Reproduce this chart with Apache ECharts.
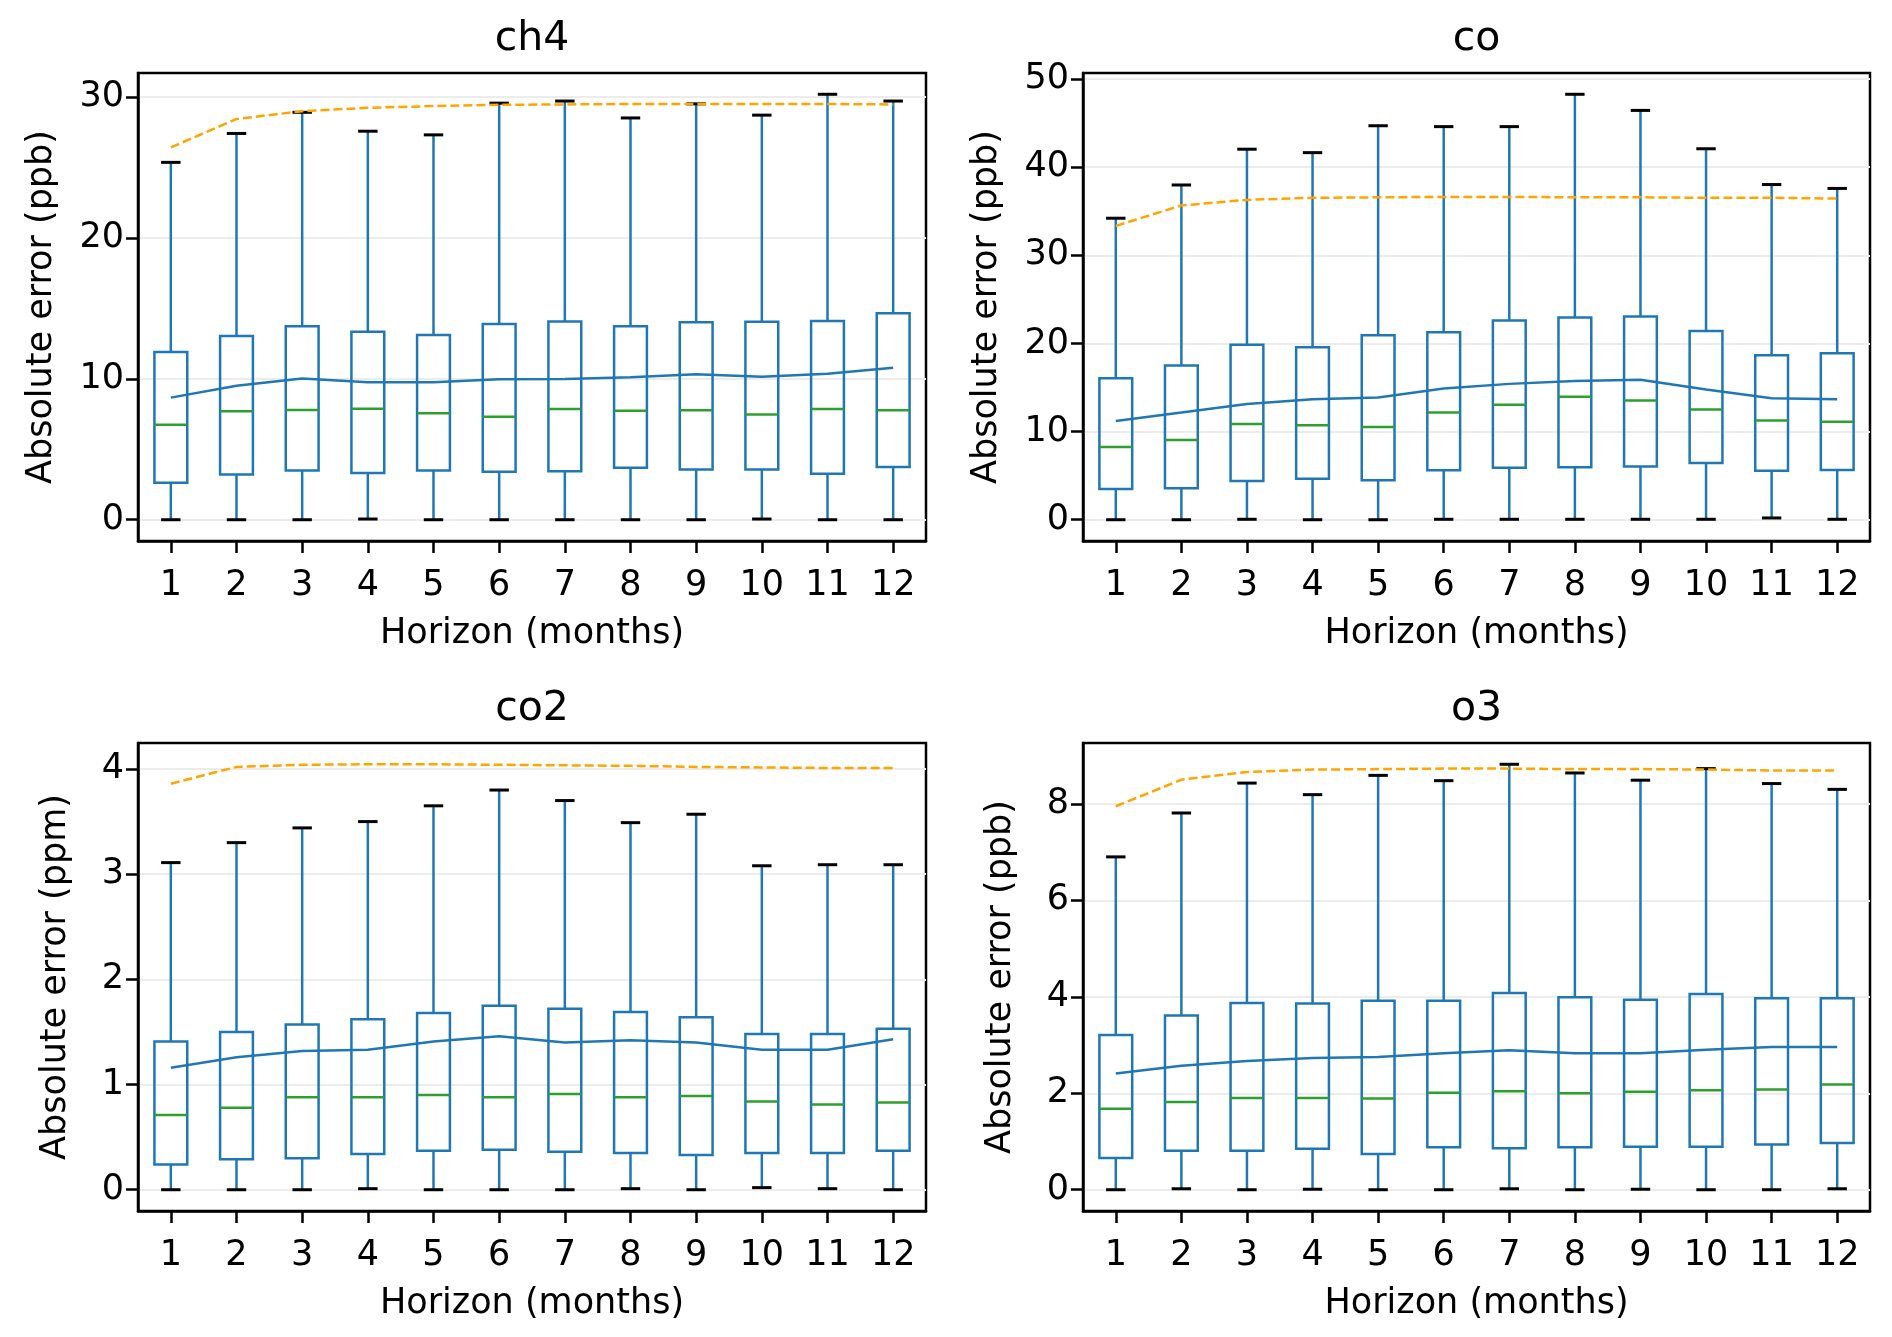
<!DOCTYPE html>
<html>
<head>
<meta charset="utf-8">
<script src="https://cdn.jsdelivr.net/npm/echarts@6/dist/echarts.min.js"></script>
<style>
  html, body { margin: 0; padding: 0; background: #ffffff; }
  #chart { width: 1892px; height: 1337px; }
</style>
</head>
<body>
<div id="chart"></div>
<script>
// ---------------- data ----------------
const horizons = ['1','2','3','4','5','6','7','8','9','10','11','12'];

// ch4 (ppb)
const ch4Low    = [0.0, 0.0, 0.0, 0.05, 0.0, 0.0, 0.0, 0.0, 0.0, 0.05, 0.0, 0.0];
const ch4Q1     = [2.63, 3.2, 3.5, 3.32, 3.5, 3.41, 3.44, 3.68, 3.56, 3.56, 3.26, 3.74];
const ch4Median = [6.73, 7.7, 7.79, 7.88, 7.55, 7.3, 7.85, 7.73, 7.76, 7.46, 7.85, 7.76];
const ch4Q3     = [11.9, 13.04, 13.73, 13.34, 13.1, 13.88, 14.07, 13.73, 14.0, 14.04, 14.1, 14.64];
const ch4High   = [25.35, 27.4, 28.9, 27.56, 27.3, 29.55, 29.7, 28.5, 29.5, 28.7, 30.18, 29.7];
const ch4Mean   = [8.66, 9.51, 10.02, 9.75, 9.75, 9.96, 9.99, 10.11, 10.32, 10.14, 10.35, 10.78];
const ch4Ref    = [26.41, 28.43, 28.98, 29.22, 29.34, 29.43, 29.46, 29.49, 29.49, 29.49, 29.49, 29.46];
const ch4Ticks  = [0, 10, 20, 30];

// co (ppb)
const coLow    = [0.0, 0.0, 0.05, 0.0, 0.0, 0.05, 0.05, 0.05, 0.05, 0.05, 0.2, 0.05];
const coQ1     = [3.48, 3.57, 4.4, 4.64, 4.49, 5.6, 5.89, 5.94, 6.04, 6.43, 5.56, 5.65];
const coMedian = [8.26, 9.03, 10.87, 10.72, 10.53, 12.17, 13.04, 13.96, 13.53, 12.51, 11.26, 11.11];
const coQ3     = [16.04, 17.49, 19.86, 19.57, 20.92, 21.26, 22.61, 22.95, 23.04, 21.4, 18.65, 18.89];
const coHigh   = [34.2, 37.97, 42.03, 41.64, 44.69, 44.59, 44.59, 48.26, 46.43, 42.08, 38.02, 37.58];
const coMean   = [11.21, 12.17, 13.14, 13.67, 13.86, 14.88, 15.41, 15.75, 15.89, 14.78, 13.77, 13.67];
const coRef    = [33.33, 35.65, 36.28, 36.52, 36.57, 36.62, 36.62, 36.57, 36.57, 36.52, 36.52, 36.43];
const coTicks  = [0, 10, 20, 30, 40, 50];

// co2 (ppm)
const co2Low    = [0.0, 0.0, 0.0, 0.01, 0.0, 0.0, 0.0, 0.01, 0.0, 0.02, 0.01, 0.0];
const co2Q1     = [0.24, 0.29, 0.30, 0.34, 0.37, 0.38, 0.36, 0.35, 0.33, 0.35, 0.35, 0.37];
const co2Median = [0.71, 0.78, 0.88, 0.88, 0.90, 0.88, 0.91, 0.88, 0.89, 0.84, 0.81, 0.83];
const co2Q3     = [1.41, 1.50, 1.57, 1.62, 1.68, 1.75, 1.72, 1.69, 1.64, 1.48, 1.48, 1.53];
const co2High   = [3.11, 3.30, 3.44, 3.50, 3.65, 3.80, 3.70, 3.49, 3.57, 3.08, 3.09, 3.09];
const co2Mean   = [1.16, 1.26, 1.32, 1.33, 1.41, 1.46, 1.40, 1.42, 1.40, 1.33, 1.33, 1.43];
const co2Ref    = [3.86, 4.02, 4.04, 4.045, 4.045, 4.04, 4.035, 4.03, 4.02, 4.015, 4.01, 4.01];
const co2Ticks  = [0, 1, 2, 3, 4];

// o3 (ppb)
const o3Low    = [0.0, 0.02, 0.0, 0.01, 0.0, 0.0, 0.02, 0.0, 0.01, 0.0, 0.0, 0.02];
const o3Q1     = [0.66, 0.81, 0.81, 0.85, 0.74, 0.88, 0.86, 0.88, 0.89, 0.89, 0.94, 0.97];
const o3Median = [1.68, 1.82, 1.90, 1.90, 1.89, 2.01, 2.04, 2.00, 2.03, 2.06, 2.08, 2.18];
const o3Q3     = [3.21, 3.61, 3.87, 3.86, 3.92, 3.92, 4.08, 3.99, 3.94, 4.06, 3.97, 3.97];
const o3High   = [6.90, 7.81, 8.43, 8.19, 8.59, 8.48, 8.82, 8.64, 8.49, 8.73, 8.42, 8.30];
const o3Mean   = [2.41, 2.57, 2.67, 2.73, 2.75, 2.83, 2.89, 2.83, 2.83, 2.90, 2.96, 2.96];
const o3Ref    = [7.95, 8.50, 8.66, 8.71, 8.72, 8.73, 8.73, 8.72, 8.72, 8.71, 8.69, 8.69];
const o3Ticks  = [0, 2, 4, 6, 8];

// ---------------- panels ----------------
const panels = [
  { title: 'ch4', unit: 'ppb', low: ch4Low, q1: ch4Q1, med: ch4Median, q3: ch4Q3, high: ch4High, mean: ch4Mean, ref: ch4Ref, ticks: ch4Ticks,
    grid: { left: 138, top: 73, width: 788, height: 468 }, nameGap: 79 },
  { title: 'co', unit: 'ppb', low: coLow, q1: coQ1, med: coMedian, q3: coQ3, high: coHigh, mean: coMean, ref: coRef, ticks: coTicks,
    grid: { left: 1083, top: 73, width: 787, height: 468 }, nameGap: 79 },
  { title: 'co2', unit: 'ppm', low: co2Low, q1: co2Q1, med: co2Median, q3: co2Q3, high: co2High, mean: co2Mean, ref: co2Ref, ticks: co2Ticks,
    grid: { left: 138, top: 743, width: 788, height: 468 }, nameGap: 65 },
  { title: 'o3', unit: 'ppb', low: o3Low, q1: o3Q1, med: o3Median, q3: o3Q3, high: o3High, mean: o3Mean, ref: o3Ref, ticks: o3Ticks,
    grid: { left: 1083, top: 743, width: 787, height: 468 }, nameGap: 65 }
];

const BLUE = '#1f77b4', GREEN = '#2ca02c', ORANGE = '#ffa500';
const FONT = 'DejaVu Sans';

function renderBox(params, api) {
  const i = api.value(0);
  const low = api.coord([i, api.value(1)]);
  const q1 = api.coord([i, api.value(2)]);
  const med = api.coord([i, api.value(3)]);
  const q3 = api.coord([i, api.value(4)]);
  const high = api.coord([i, api.value(5)]);
  const band = api.size([1, 0])[0];
  const bw = band * 0.5, cw = band * 0.25;
  const cx = q1[0];
  const line = (x1, y1, x2, y2, color, w, cap) => ({
    type: 'line',
    shape: { x1, y1, x2, y2 },
    style: { stroke: color, lineWidth: w, lineCap: cap || 'butt', fill: null }
  });
  return {
    type: 'group',
    children: [
      { type: 'rect', shape: { x: cx - bw / 2, y: q3[1], width: bw, height: q1[1] - q3[1] },
        style: { fill: 'none', stroke: BLUE, lineWidth: 2.5 } },
      line(cx, q3[1], cx, high[1], BLUE, 2.5),
      line(cx, q1[1], cx, low[1], BLUE, 2.5),
      line(cx - bw / 2, med[1], cx + bw / 2, med[1], GREEN, 2.5),
      line(cx - cw / 2, high[1], cx + cw / 2, high[1], '#000000', 3, 'square'),
      line(cx - cw / 2, low[1], cx + cw / 2, low[1], '#000000', 3, 'square')
    ]
  };
}

const titles = [], grids = [], xAxes = [], yAxes = [], series = [];
panels.forEach((p, k) => {
  const all = [].concat(p.low, p.q1, p.med, p.q3, p.high, p.mean, p.ref);
  const dMin = Math.min.apply(null, all), dMax = Math.max.apply(null, all);
  const span = dMax - dMin;
  const yMin = dMin - 0.05 * span, yMax = dMax + 0.05 * span;

  grids.push(Object.assign({ show: true, borderColor: '#000', borderWidth: 2.5, backgroundColor: 'transparent', containLabel: false }, p.grid));
  titles.push({
    text: p.title,
    left: p.grid.left + p.grid.width / 2,
    top: p.grid.top - 54,
    textAlign: 'center',
    padding: 0,
    textStyle: { fontFamily: FONT, fontSize: 41, fontWeight: 'normal', color: '#000' }
  });
  xAxes.push({
    gridIndex: k, type: 'category', data: horizons, boundaryGap: true,
    name: 'Horizon (months)', nameLocation: 'middle', nameGap: 75,
    nameTextStyle: { fontFamily: FONT, fontSize: 35, color: '#000' },
    axisLine: { show: true, onZero: false, lineStyle: { color: '#000', width: 2.5 } },
    axisTick: { show: true, alignWithLabel: true, length: 12, lineStyle: { color: '#000', width: 2.5 } },
    axisLabel: { fontFamily: FONT, fontSize: 35, color: '#000', margin: 27, interval: 0 },
    splitLine: { show: false }
  });
  yAxes.push({
    gridIndex: k, type: 'value', min: yMin, max: yMax,
    name: 'Absolute error (' + p.unit + ')', nameLocation: 'middle', nameGap: p.nameGap,
    nameTextStyle: { fontFamily: FONT, fontSize: 35, color: '#000' },
    axisLine: { show: true, onZero: false, lineStyle: { color: '#000', width: 2.5 } },
    axisTick: { show: true, length: 12, lineStyle: { color: '#000', width: 2.5 }, customValues: p.ticks },
    axisLabel: { fontFamily: FONT, fontSize: 35, color: '#000', margin: 14, customValues: p.ticks,
      formatter: v => String(Math.round(v * 1000) / 1000) },
    splitLine: { show: false }
  });
  series.push({
    type: 'custom', xAxisIndex: k, yAxisIndex: k, z: 2,
    renderItem: renderBox,
    encode: { x: 0, y: [1, 2, 3, 4, 5] },
    data: horizons.map((h, i) => [i, p.low[i], p.q1[i], p.med[i], p.q3[i], p.high[i]]),
    markLine: {
      silent: true, symbol: 'none', z: 0, animation: false,
      label: { show: false },
      lineStyle: { color: '#ececec', width: 2, type: 'solid' },
      data: p.ticks.map(t => ({ yAxis: t }))
    }
  });
  series.push({
    type: 'line', xAxisIndex: k, yAxisIndex: k, z: 3,
    data: p.mean, symbol: 'none', silent: true,
    lineStyle: { color: BLUE, width: 2.5 }
  });
  series.push({
    type: 'line', xAxisIndex: k, yAxisIndex: k, z: 3,
    data: p.ref, symbol: 'none', silent: true,
    lineStyle: { color: ORANGE, width: 2.5, type: [9, 4] }
  });
});

const chart = echarts.init(document.getElementById('chart'), null, { renderer: 'canvas' });
chart.setOption({
  backgroundColor: '#ffffff',
  animation: false,
  title: titles,
  grid: grids,
  xAxis: xAxes,
  yAxis: yAxes,
  series: series
});
</script>
</body>
</html>
